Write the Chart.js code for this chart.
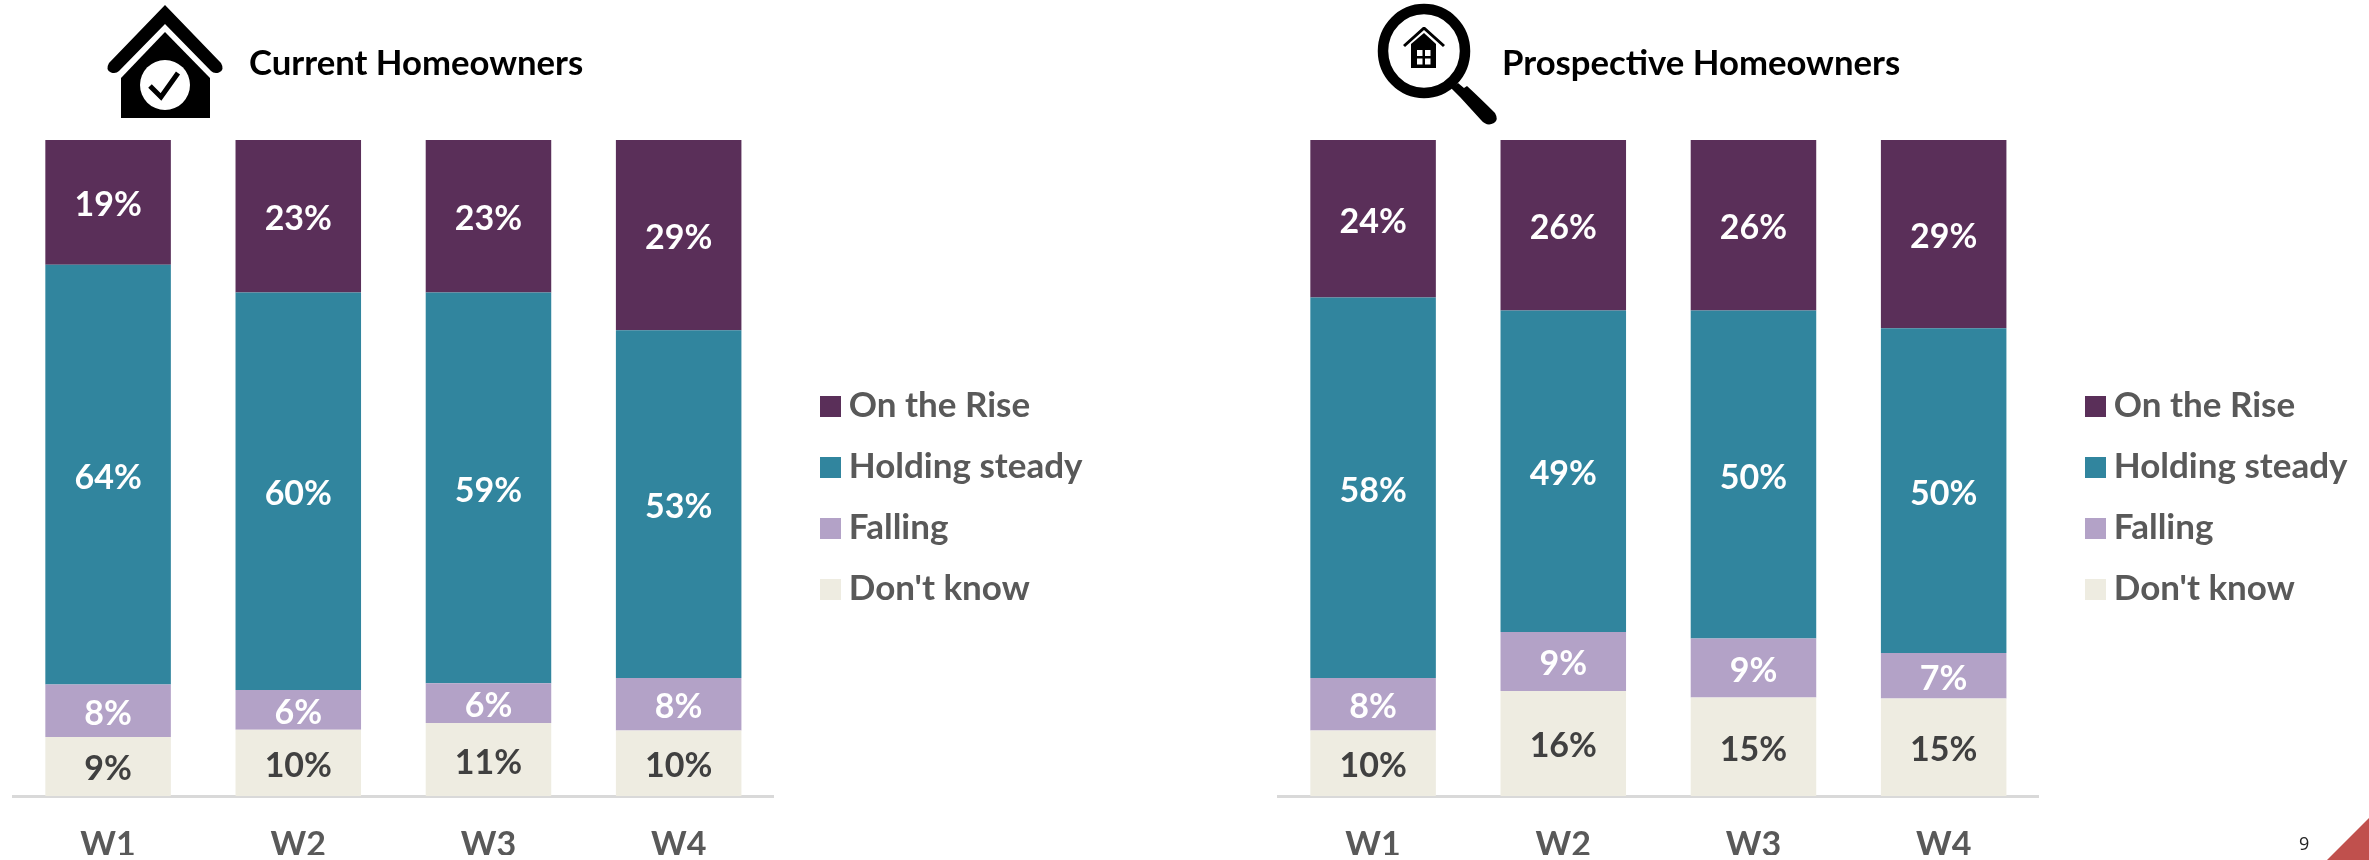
<!DOCTYPE html>
<html><head><meta charset="utf-8">
<script src="https://cdn.jsdelivr.net/npm/chart.js@4"></script>
<style>
html,body{margin:0;padding:0;background:#fff;width:2369px;height:860px;overflow:hidden;font-family:Lato,sans-serif}
.wrap{position:absolute;top:0;width:1104px;height:860px}
.ttl{position:absolute;top:40px;font:700 34.700px/44px Lato,sans-serif;color:#000;white-space:nowrap}
#pg{position:absolute;left:2299px;top:832px;font:400 18px/22px "Open Sans",sans-serif;color:#222}
svg{position:absolute;left:0;top:0}
</style></head><body>
<div class="wrap" style="left:0"><canvas id="c1" width="1104" height="860"></canvas></div>
<div class="wrap" style="left:1265px"><canvas id="c2" width="1104" height="860"></canvas></div>
<svg width="2369" height="860" viewBox="0 0 2369 860">
  <path d="M2327 860L2369 818V860Z" fill="#C0504D"/>
  <path d="M165 5L221 63Q225 70 219 72.500Q214 74 211 71L165 24L119 71Q116 74 111 72.500Q105 70 109 63Z" fill="#000"/>
  <path d="M165 32L210 78V118H121V78Z" fill="#000"/>
  <ellipse cx="165" cy="85" rx="25" ry="25" fill="#fff"/>
  <path d="M150 86L161 97L178 73" fill="none" stroke="#000" stroke-width="5"/>
  <ellipse cx="1424" cy="51" rx="41" ry="42" fill="none" stroke="#000" stroke-width="10.500"/>
  <path d="M1451 88L1458 83L1464 88L1467 86Q1480 98 1495 113Q1499 120 1494 123Q1487 127 1481 120L1460 97Z" fill="#000"/>
  <path d="M1424 30L1405 47L1403 45L1423 27L1425 27L1445 45L1443 47Z" fill="#000"/>
  <path d="M1424 33L1436 44V68H1411V44Z" fill="#000"/>
  <rect x="1417" y="50" width="5.500" height="6" fill="#fff"/><rect x="1425" y="50" width="5.500" height="6" fill="#fff"/>
  <rect x="1417" y="58.500" width="5.500" height="6" fill="#fff"/><rect x="1425" y="58.500" width="5.500" height="6" fill="#fff"/>
</svg>
<div class="ttl" style="left:249px">Current Homeowners</div>
<div class="ttl" style="left:1502px">Prospective Homeowners</div>
<div id="pg">9</div>
<script>
const categories = ["W1","W2","W3","W4"];
const seriesNames = ["Don't know","Falling","Holding steady","On the Rise"];
const seriesColors = ["#EEECE1","#B3A2C7","#31859E","#5A2F59"];
const labelColors = ["#404040","#FFFFFF","#FFFFFF","#FFFFFF"];

const currentDontKnow = [9,10,11,10];
const currentFalling  = [8,6,6,8];
const currentHolding  = [64,60,59,53];
const currentRise     = [19,23,23,29];

const prospectDontKnow = [10,16,15,15];
const prospectFalling  = [8,9,9,7];
const prospectHolding  = [58,49,50,50];
const prospectRise     = [24,26,26,29];

const valueLabels = {
  id:'valueLabels',
  afterDatasetsDraw(chart){
    const ctx = chart.ctx;
    ctx.save();
    ctx.font = '700 34px Lato, sans-serif';
    ctx.textAlign='center'; ctx.textBaseline='middle';
    chart.data.datasets.forEach((ds,i)=>{
      chart.getDatasetMeta(i).data.forEach((el,j)=>{
        const p = el.getCenterPoint();
        ctx.fillStyle = labelColors[i];
        ctx.fillText(ds.rawValues[j]+'%', p.x, p.y+3);
      });
    });
    ctx.restore();
  }
};
const legendShift = {
  id:'legendShift',
  afterLayout(chart){
    const d = 29.5;
    chart.legend.left += d; chart.legend.right += d;
    chart.legend.adjustHitBoxes();
  }
};
function swatch(color){
  const c = document.createElement('canvas'); c.width=21; c.height=21;
  const x = c.getContext('2d'); x.fillStyle=color; x.fillRect(0,0,21,21);
  return c;
}
function build(id, rows){
  const totals = categories.map((_,j)=>rows.reduce((s,r)=>s+r[j],0));
  new Chart(document.getElementById(id),{
    type:'bar',
    data:{labels:categories,datasets:rows.map((r,i)=>({
      label:seriesNames[i],
      rawValues:r,
      data:r.map((v,j)=>v/totals[j]*100),
      backgroundColor:seriesColors[i],
      borderWidth:0,
      barPercentage:0.66,categoryPercentage:1,
      pointStyle:swatch(seriesColors[i])
    }))},
    options:{
      responsive:false,animation:false,
      layout:{padding:{left:13,top:140,bottom:5,right:41}},
      scales:{
        x:{stacked:true,
           grid:{display:false,drawTicks:false},
           border:{display:true,color:'#D9D9D9',width:3},
           ticks:{color:'#595959',padding:30,font:{family:'Lato',weight:'700',size:34,lineHeight:'38px'}},
           afterFit(s){s.height=59;}},
        y:{stacked:true,display:false,min:0,max:100}
      },
      plugins:{
        tooltip:{enabled:false},
        title:{display:false},
        legend:{
          display:true,position:'right',align:'center',reverse:true,
          labels:{usePointStyle:true,pointStyleWidth:2,boxHeight:21,padding:26,
            color:'#595959',font:{family:'Lato',weight:'700',size:35,lineHeight:'38px'}}
        }
      }
    },
    plugins:[valueLabels,legendShift]
  });
}
build('c1',[currentDontKnow,currentFalling,currentHolding,currentRise]);
build('c2',[prospectDontKnow,prospectFalling,prospectHolding,prospectRise]);
</script>
</body></html>
